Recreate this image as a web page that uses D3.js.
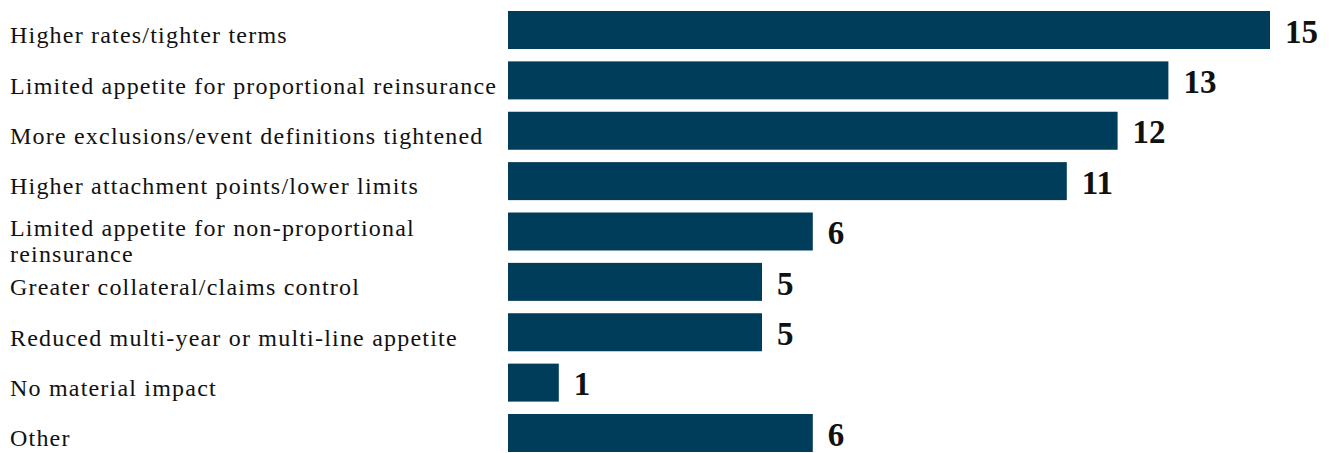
<!DOCTYPE html>
<html>
<head>
<meta charset="utf-8">
<script src="https://cdn.jsdelivr.net/npm/d3@7"></script>
<style>
  body { margin: 0; background: #fff; }
  svg text { font-family: "Liberation Serif", "DejaVu Serif", serif; }
</style>
</head>
<body>
<div id="chart"></div>
<script>
// categories (one array entry per line of the label)
var categories = [
    ["Higher rates/tighter terms"],
    ["Limited appetite for proportional reinsurance"],
    ["More exclusions/event definitions tightened"],
    ["Higher attachment points/lower limits"],
    ["Limited appetite for non-proportional", "reinsurance"],
    ["Greater collateral/claims control"],
    ["Reduced multi-year or multi-line appetite"],
    ["No material impact"],
    ["Other"]
];
var values = [15, 13, 12, 11, 6, 5, 5, 1, 6];

var width = 1335;
var height = 453;
var barColor = "#003d5b";

var svg = d3.select("#chart")
    .append("svg")
    .attr("width", width)
    .attr("height", height);

// x: 0..15 maps to 508..1270
var x = d3.scaleLinear()
    .domain([0, 15])
    .range([508, 1270]);

// 9 bars, 38px tall, step ~50.4
var y = d3.scaleBand()
    .domain(d3.range(values.length))
    .range([11, 452])
    .paddingInner(0.2457)
    .paddingOuter(0);

var rows = svg.selectAll("g.row")
    .data(values)
    .enter()
    .append("g")
    .attr("class", "row");

rows.append("rect")
    .attr("x", x(0))
    .attr("y", function(d, i) { return y(i); })
    .attr("width", function(d) { return x(d) - x(0); })
    .attr("height", y.bandwidth())
    .attr("fill", barColor);

// value labels
rows.append("text")
    .attr("x", function(d) { return x(d) + 15; })
    .attr("y", function(d, i) { return y(i) + y.bandwidth() / 2 + 12.7; })
    .attr("font-size", "33px")
    .attr("font-weight", "bold")
    .attr("fill", "#111")
    .text(function(d) { return d; });

// category labels
rows.append("text")
    .attr("x", 10)
    .attr("y", function(d, i) {
        var c = y(i) + y.bandwidth() / 2;
        return categories[i].length > 1 ? c + 4 : c + 13.3;
    })
    .attr("font-size", "24px")
    .attr("letter-spacing", "1.2px")
    .attr("fill", "#111")
    .each(function(d, i) {
        var t = d3.select(this);
        categories[i].forEach(function(line, k) {
            t.append("tspan")
                .attr("x", 10)
                .attr("dy", k === 0 ? 0 : 26)
                .text(line);
        });
    });
</script>
</body>
</html>
